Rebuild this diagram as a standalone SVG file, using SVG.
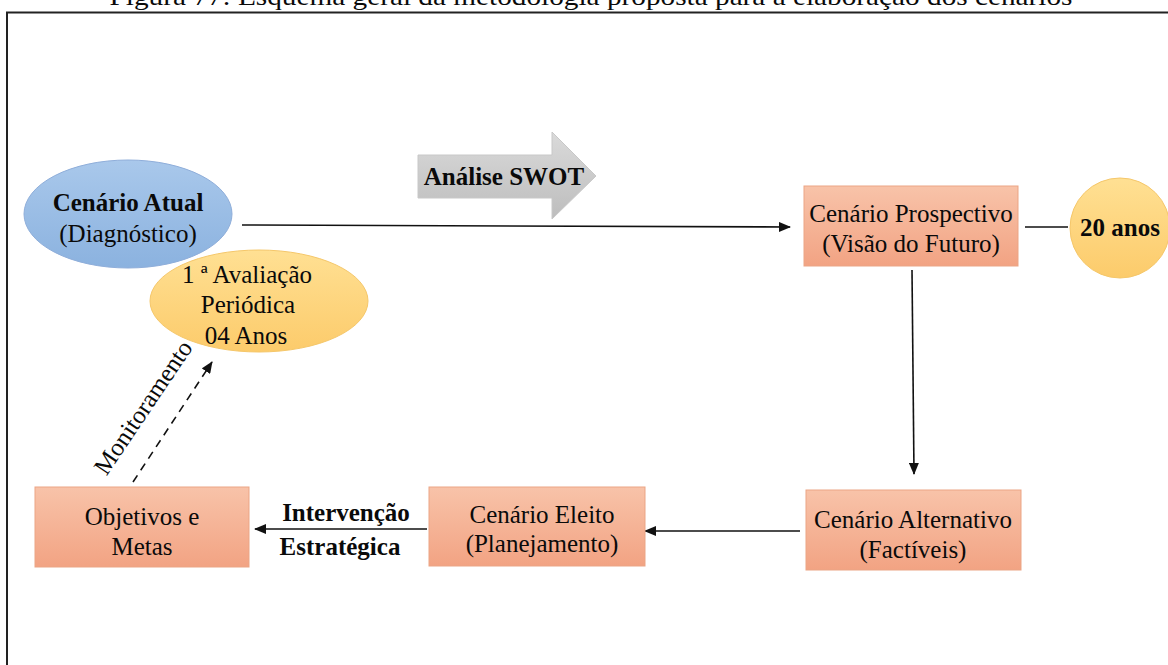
<svg xmlns="http://www.w3.org/2000/svg" width="1168" height="665" viewBox="0 0 1168 665">
<style>
.t{font-family:"Liberation Serif","Times New Roman",serif;font-size:25px;fill:#0a0a0a;text-anchor:middle}
.b{font-weight:bold}
.box{fill:url(#gBox);stroke:#EBA585;stroke-width:1}
.ln{stroke:#111;stroke-width:1.6;fill:none}
</style>
<defs>
<linearGradient id="gBox" x1="0" y1="0" x2="0" y2="1">
<stop offset="0" stop-color="#F8C3A9"/><stop offset="1" stop-color="#F2A383"/>
</linearGradient>
<linearGradient id="gBlue" x1="0" y1="0" x2="0" y2="1">
<stop offset="0" stop-color="#A9C8EB"/><stop offset="1" stop-color="#8BB2DF"/>
</linearGradient>
<linearGradient id="gYel" x1="0" y1="0" x2="0" y2="1">
<stop offset="0" stop-color="#FFE093"/><stop offset="1" stop-color="#FCCB6B"/>
</linearGradient>
<linearGradient id="gGray" x1="0" y1="0" x2="0" y2="1">
<stop offset="0" stop-color="#DADADA"/><stop offset="1" stop-color="#BDBDBD"/>
</linearGradient>
<marker id="ah" markerWidth="12" markerHeight="10" refX="11" refY="5" orient="auto" markerUnits="userSpaceOnUse">
<path d="M0,0 L12,5 L0,10 Z" fill="#111"/>
</marker>
</defs>
<rect width="1168" height="665" fill="#fff"/>
<text class="t" x="591" y="5" font-size="29" textLength="963" lengthAdjust="spacingAndGlyphs">Figura 77: Esquema geral da metodologia proposta para a elaboração dos cenários</text>
<path d="M7,665 V12.5 H1168" fill="none" stroke="#222" stroke-width="2"/>
<g id="connectors">
<path class="ln" d="M242,225 L790,227" marker-end="url(#ah)"/>
<path class="ln" d="M1025,227 L1068,227"/>
<path class="ln" d="M912,270 L914,474" marker-end="url(#ah)"/>
<path class="ln" d="M800,531 L645,531" marker-end="url(#ah)"/>
<path class="ln" d="M427,529 L255,529" marker-end="url(#ah)"/>
<path class="ln" d="M133,482 L212,362" stroke-dasharray="8,6" marker-end="url(#ah)"/>
<text class="t" x="0" y="0" transform="translate(150,412) rotate(-56)">Monitoramento</text>
<text class="t b" x="346" y="521">Intervenção</text>
<text class="t b" x="340" y="555">Estratégica</text>
</g>
<g id="swot">
<path d="M418,155 H552 V132 L596,176 L552,219 V198 H418 Z" fill="url(#gGray)" stroke="#C8C8C8" stroke-width="1"/>
<text class="t b" x="504" y="185">Análise SWOT</text>
</g>
<g id="cenario-atual">
<ellipse cx="128" cy="214" rx="104" ry="54" fill="url(#gBlue)" stroke="#8FAEDA" stroke-width="1"/>
<text class="t b" x="128" y="211">Cenário Atual</text>
<text class="t" x="128" y="242">(Diagnóstico)</text>
</g>
<g id="avaliacao">
<ellipse cx="259" cy="301" rx="109" ry="51" fill="url(#gYel)" stroke="#F5C76A" stroke-width="1"/>
<text class="t" x="247" y="283">1 ª Avaliação</text>
<text class="t" x="248" y="313">Periódica</text>
<text class="t" x="246" y="344">04 Anos</text>
</g>
<g id="prospectivo">
<rect class="box" x="804" y="186" width="214" height="80"/>
<text class="t" x="911" y="222">Cenário Prospectivo</text>
<text class="t" x="911" y="252">(Visão do Futuro)</text>
</g>
<g id="vinte-anos">
<ellipse cx="1120" cy="228" rx="50" ry="50" fill="url(#gYel)" stroke="#F5C76A" stroke-width="1"/>
<text class="t b" x="1120" y="236">20 anos</text>
</g>
<g id="alternativo">
<rect class="box" x="806" y="490" width="215" height="80"/>
<text class="t" x="913" y="528">Cenário Alternativo</text>
<text class="t" x="913" y="558">(Factíveis)</text>
</g>
<g id="eleito">
<rect class="box" x="429" y="487" width="216" height="79"/>
<text class="t" x="542" y="523">Cenário Eleito</text>
<text class="t" x="542" y="552">(Planejamento)</text>
</g>
<g id="objetivos">
<rect class="box" x="35" y="487" width="214" height="80"/>
<text class="t" x="142" y="525">Objetivos e</text>
<text class="t" x="142" y="555">Metas</text>
</g>
</svg>
